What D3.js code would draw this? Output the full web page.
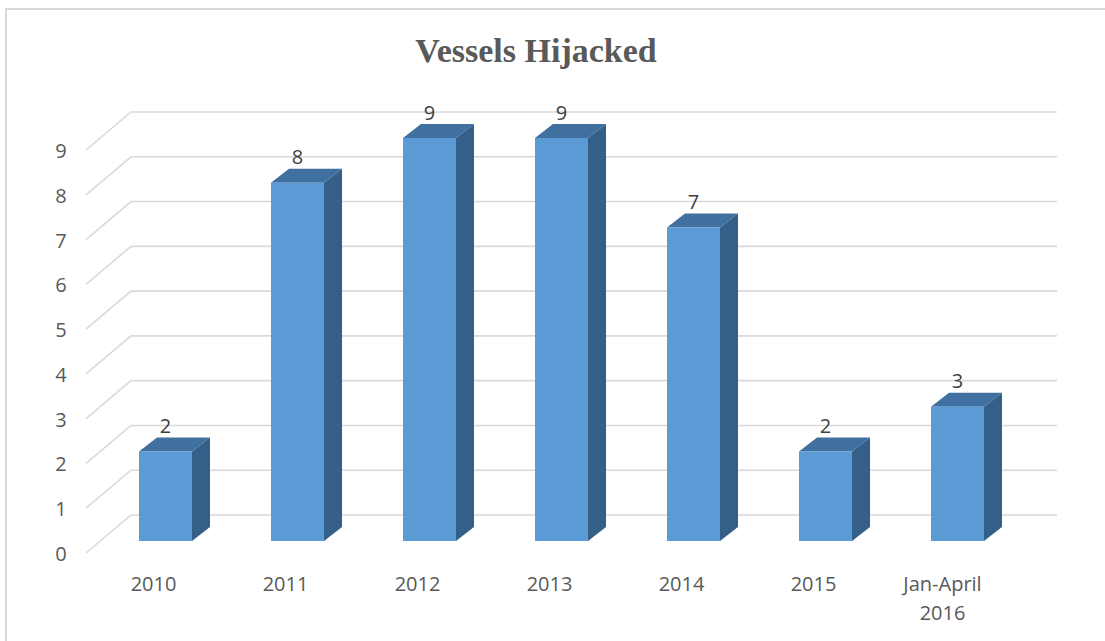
<!DOCTYPE html>
<html>
<head>
<meta charset="utf-8">
<script src="https://cdn.jsdelivr.net/npm/d3@7"></script>
<style>
  html, body { margin: 0; padding: 0; background: #ffffff; }
  svg { display: block; }
</style>
</head>
<body>
<svg id="chart" width="1105" height="641"></svg>
<script>
// ---- data ----
const categories = ["2010", "2011", "2012", "2013", "2014", "2015", "Jan-April\n2016"];
const values = [2, 8, 9, 9, 7, 2, 3];
const yTicks = [0, 1, 2, 3, 4, 5, 6, 7, 8, 9];
const title = "Vessels Hijacked";

// ---- layout ----
const svg = d3.select("#chart");
const W = 1105, H = 641;
const gridColor = "#d9d9d9";
const textColor = "#595959";
const frontColor = "#5b9bd5";
const topColor = "#3f70a0";
const sideColor = "#335f89";

// frame
svg.append("path")
  .attr("d", `M6,${H + 2} L6,9 L${W + 2},9`)
  .attr("fill", "none")
  .attr("stroke", gridColor)
  .attr("stroke-width", 2);

// title
svg.append("text")
  .attr("x", 536).attr("y", 62)
  .attr("text-anchor", "middle")
  .attr("font-family", "'Liberation Serif', 'Times New Roman', serif")
  .attr("font-weight", "bold")
  .attr("font-size", 34)
  .attr("fill", textColor)
  .text(title);

// scales
const yBack = d3.scaleLinear().domain([0, 9]).range([515, 112]);   // back wall
const yEdge = d3.scaleLinear().domain([0, 9]).range([553, 150]);   // front edge of side wall
const yBar = d3.scaleLinear().domain([0, 9]).range([541, 138]);    // bar front face
const x = d3.scalePoint().domain(categories).range([165.5, 957.5]);

const wallLeft = 131, wallRight = 1057, edgeX = 86;
const barW = 53, dx = 18, dy = -14;

// gridlines (back wall + side diagonals)
const grid = svg.append("g")
  .attr("stroke", gridColor).attr("stroke-width", 1.6).attr("fill", "none");
yTicks.forEach(t => {
  grid.append("path")
    .attr("d", `M${edgeX},${yEdge(t)} L${wallLeft},${yBack(t)} L${wallRight},${yBack(t)}`);
});

// y tick labels
svg.append("g").selectAll("text").data(yTicks).join("text")
  .attr("x", 61)
  .attr("y", d => yEdge(d) + 8)
  .attr("text-anchor", "middle")
  .attr("font-family", "'Open Sans', sans-serif")
  .attr("font-size", 20)
  .attr("fill", textColor)
  .text(d => d);

// bars
const bars = svg.append("g").selectAll("g").data(categories.map((c, i) => ({ c, v: values[i] }))).join("g");
bars.each(function (d) {
  const g = d3.select(this);
  const x0 = x(d.c) - barW / 2, x1 = x(d.c) + barW / 2;
  const yt = yBar(d.v), yb = yBar(0);
  // side face
  g.append("path")
    .attr("d", `M${x1},${yt} L${x1 + dx},${yt + dy} L${x1 + dx},${yb + dy} L${x1},${yb} Z`)
    .attr("fill", sideColor);
  // top face
  g.append("path")
    .attr("d", `M${x0},${yt} L${x0 + dx},${yt + dy} L${x1 + dx},${yt + dy} L${x1},${yt} Z`)
    .attr("fill", topColor);
  // front face
  g.append("rect")
    .attr("x", x0).attr("y", yt)
    .attr("width", barW).attr("height", yb - yt)
    .attr("fill", frontColor);
  // value label
  g.append("text")
    .attr("x", x(d.c))
    .attr("y", yt + dy - 4.5)
    .attr("text-anchor", "middle")
    .attr("font-family", "'Open Sans', sans-serif")
    .attr("font-size", 20)
    .attr("fill", "#404040")
    .text(d.v);
});

// x category labels
const xl = svg.append("g").selectAll("text").data(categories).join("text")
  .attr("x", d => x(d) - 12)
  .attr("y", 591)
  .attr("text-anchor", "middle")
  .attr("font-family", "'Open Sans', sans-serif")
  .attr("font-size", 20)
  .attr("fill", textColor);
xl.each(function (d) {
  const t = d3.select(this);
  d.split("\n").forEach((line, i) => {
    t.append("tspan")
      .attr("x", x(d) - 12 - (d.includes("\n") ? 3 : 0))
      .attr("dy", i === 0 ? 0 : 29)
      .text(line);
  });
});
</script>
</body>
</html>
